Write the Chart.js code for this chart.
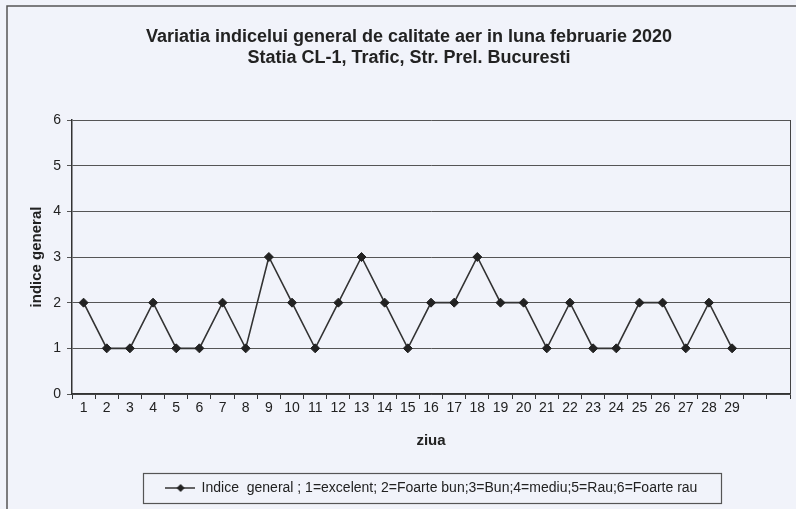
<!DOCTYPE html>
<html>
<head>
<meta charset="utf-8">
<script src="https://cdn.jsdelivr.net/npm/chart.js@4.4.1/dist/chart.umd.min.js"></script>
<style>
  html, body { margin: 0; padding: 0; background: #f1f3fa; }
  canvas { display: block; }
</style>
</head>
<body>
<canvas id="c" width="796" height="509"></canvas>
<script>
// ---- data ----
const days = ['1','2','3','4','5','6','7','8','9','10','11','12','13','14','15','16','17','18','19','20','21','22','23','24','25','26','27','28','29','',''];
const indiceGeneral = [2,1,1,2,1,1,2,1,3,2,1,2,3,2,1,2,2,3,2,2,1,2,1,1,2,2,1,2,1];
const yTicks = [0,1,2,3,4,5,6];
const titleLines = ['Variatia indicelui general de calitate aer in luna februarie 2020', 'Statia CL-1, Trafic, Str. Prel. Bucuresti'];
const seriesLabel = 'Indice  general ; 1=excelent; 2=Foarte bun;3=Bun;4=mediu;5=Rau;6=Foarte rau';
const xTitle = 'ziua';
const yTitle = 'indice general';

Chart.defaults.font.family = '"Liberation Sans", Arial, sans-serif';
Chart.defaults.color = '#222';

// legend marker: line with diamond
const marker = document.createElement('canvas');
marker.width = 30; marker.height = 10;
(function(){
  const m = marker.getContext('2d');
  m.strokeStyle = '#333'; m.lineWidth = 1.5;
  m.beginPath(); m.moveTo(0,5); m.lineTo(30,5); m.stroke();
  m.fillStyle = '#222';
  m.beginPath(); m.moveTo(16,1); m.lineTo(20,5); m.lineTo(16,9); m.lineTo(12,5); m.closePath(); m.fill();
})();

const decor = {
  id: 'decor',
  beforeDraw(chart) {
    const ctx = chart.ctx;
    ctx.save();
    ctx.fillStyle = '#f1f3fa';
    ctx.fillRect(0, 0, chart.width, chart.height);
    ctx.strokeStyle = '#555';
    ctx.lineWidth = 1.5;
    ctx.beginPath();
    ctx.moveTo(7, 509); ctx.lineTo(7, 6); ctx.lineTo(796, 6);
    ctx.stroke();
    ctx.restore();
  },
  afterDraw(chart) {
    const ctx = chart.ctx;
    const a = chart.chartArea;
    ctx.save();
    ctx.strokeStyle = '#444';
    ctx.lineWidth = 1;
    ctx.beginPath();
    ctx.moveTo(a.right + 0.5, a.top); ctx.lineTo(a.right + 0.5, a.bottom);
    ctx.stroke();
    const hb = chart.legend.legendHitBoxes[0];
    if (hb) {
      const cy = hb.top + hb.height / 2;
      ctx.strokeStyle = '#555';
      ctx.lineWidth = 1.2;
      ctx.strokeRect(Math.round(hb.left - 21.5) + 0.5, Math.round(cy - 15) + 0.5, Math.round(hb.width + 45), 30);
    }
    ctx.restore();
  }
};

new Chart(document.getElementById('c'), {
  type: 'line',
  data: {
    labels: days,
    datasets: [{
      label: seriesLabel,
      data: indiceGeneral,
      borderColor: '#333',
      borderWidth: 1.6,
      pointStyle: 'rectRot',
      pointRadius: 4.5,
      pointHoverRadius: 4.5,
      pointBackgroundColor: '#222',
      pointBorderColor: '#222',
      pointBorderWidth: 1,
      tension: 0,
      fill: false
    }]
  },
  options: {
    responsive: false,
    animation: false,
    events: [],
    layout: { padding: { left: 28, right: 6, top: 0, bottom: 4 } },
    plugins: {
      title: {
        display: true,
        text: titleLines,
        font: { size: 18, weight: 'bold', lineHeight: 1.1667 },
        color: '#222',
        padding: { top: 26.5, bottom: 51.5 }
      },
      legend: {
        position: 'bottom',
        fullSize: false,
        labels: {
          usePointStyle: true,
          pointStyle: marker,
          pointStyleWidth: 30,
          boxHeight: 10,
          padding: 31,
          font: { size: 14 },
          color: '#222'
        }
      },
      tooltip: { enabled: false }
    },
    scales: {
      x: {
        type: 'category',
        offset: true,
        afterFit(s) { s.height = 56; },
        grid: { display: true, drawOnChartArea: false, drawTicks: true, tickLength: 5, offset: true, color: '#333', lineWidth: 1 },
        border: { display: true, color: '#333', width: 1.5 },
        ticks: { autoSkip: false, maxRotation: 0, minRotation: 0, padding: 1, font: { size: 14 }, color: '#222' },
        title: { display: true, text: xTitle, font: { size: 15, weight: 'bold' }, color: '#222', padding: { top: 4, bottom: 0 } }
      },
      y: {
        min: 0,
        max: 6,
        afterFit(s) { s.width = 44; },
        afterBuildTicks(s) { s.ticks = yTicks.map(v => ({ value: v })); },
        grid: { color: '#555', lineWidth: 1, tickLength: 5, drawTicks: true },
        border: { display: true, color: '#333', width: 1.5 },
        ticks: { stepSize: 1, padding: 6, font: { size: 14 }, color: '#222' },
        title: { display: true, text: yTitle, font: { size: 15, weight: 'bold' }, color: '#222', padding: { top: 0, bottom: 0 } }
      }
    }
  },
  plugins: [decor]
});
</script>
</body>
</html>
